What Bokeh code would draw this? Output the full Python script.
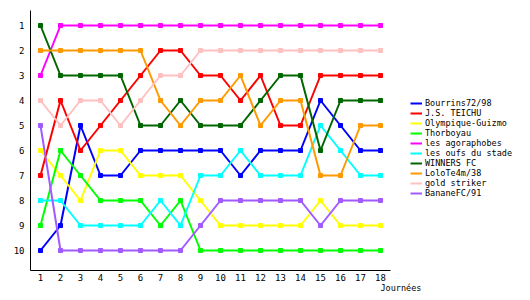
from bokeh.plotting import figure
from bokeh.models import Legend, LegendItem, Title, Range1d, FixedTicker, ColumnDataSource
from bokeh.embed import file_html
from bokeh.resources import INLINE

journees = list(range(1, 19))
teams = ["Bourrins72/98", "J.S. TEICHU", "Olympique-Guizmo", "Thorboyau",
         "les agoraphobes", "les oufs du stade", "WINNERS FC", "LoloTe4m/38",
         "gold striker", "BananeFC/91"]
colors = ["#0000ff", "#ff0000", "#ffff00", "#00ff00", "#ff00ff", "#00ffff",
          "#006600", "#ff9900", "#ffc0c0", "#a05aff"]

bourrins = [10, 9, 5, 7, 7, 6, 6, 6, 6, 6, 7, 6, 6, 6, 4, 5, 6, 6]
teichu = [7, 4, 6, 5, 4, 3, 2, 2, 3, 3, 4, 3, 5, 5, 3, 3, 3, 3]
guizmo = [6, 7, 8, 6, 6, 7, 7, 7, 8, 9, 9, 9, 9, 9, 8, 9, 9, 9]
thorboyau = [9, 6, 7, 8, 8, 8, 9, 8, 10, 10, 10, 10, 10, 10, 10, 10, 10, 10]
agoraphobes = [3, 1, 1, 1, 1, 1, 1, 1, 1, 1, 1, 1, 1, 1, 1, 1, 1, 1]
oufs = [8, 8, 9, 9, 9, 9, 8, 9, 7, 7, 6, 7, 7, 7, 5, 6, 7, 7]
winners = [1, 3, 3, 3, 3, 5, 5, 4, 5, 5, 5, 4, 3, 3, 6, 4, 4, 4]
lolo = [2, 2, 2, 2, 2, 2, 4, 5, 4, 4, 3, 5, 4, 4, 7, 7, 5, 5]
gold = [4, 5, 4, 4, 5, 4, 3, 3, 2, 2, 2, 2, 2, 2, 2, 2, 2, 2]
banane = [5, 10, 10, 10, 10, 10, 10, 10, 9, 8, 8, 8, 8, 8, 9, 8, 8, 8]
series = [bourrins, teichu, guizmo, thorboyau, agoraphobes, oufs, winners, lolo, gold, banane]

ranks = list(range(1, 11))
FONT = "DejaVu Sans Mono"

# frame spans the full width (legend sits inside it); axis line bounded to the data part
p = figure(width=530, height=300, output_backend="svg", toolbar_location=None,
           x_range=Range1d(0.5, 25.5), y_range=Range1d(10.8, 0.4),
           min_border_left=30, min_border_right=0, min_border_top=10,
           min_border_bottom=30)
p.outline_line_color = None
p.grid.visible = False
p.background_fill_color = "white"
p.border_fill_color = "white"

for ax in (p.xaxis[0], p.yaxis[0]):
    ax.major_tick_out = 0
    ax.major_tick_in = 0
    ax.minor_tick_out = 0
    ax.minor_tick_in = 0
    ax.axis_line_color = "black"
    ax.axis_line_width = 1
    ax.major_label_text_font = FONT
    ax.major_label_text_font_size = "9px"
    ax.major_label_text_color = "black"
p.xaxis.ticker = FixedTicker(ticks=journees)
p.xaxis.bounds = (0.5, 18.5)
p.yaxis.ticker = FixedTicker(ticks=ranks)
p.xaxis.major_label_standoff = 3
p.yaxis.major_label_standoff = 6

items = []
for name, col, vals in zip(teams, colors, series):
    src = ColumnDataSource(dict(x=journees, y=vals))
    ln = p.line("x", "y", source=src, line_color=col, line_width=2)
    p.scatter("x", "y", source=src, marker="square", size=4, fill_color=col, line_color=col)
    items.append(LegendItem(label=name, renderers=[ln]))

legend = Legend(items=items, location=(380, 72), orientation="vertical",
                label_text_font=FONT, label_text_font_size="8.5px",
                label_text_color="black", glyph_width=12, glyph_height=10,
                label_height=10, label_standoff=3, spacing=0, padding=0,
                margin=0, border_line_color=None, background_fill_alpha=0)
p.add_layout(legend, "center")

p.add_layout(Title(text="Journées", align="left", offset=350, text_font=FONT,
                   text_font_size="8.5px", text_font_style="normal",
                   text_color="black", standoff=-6), "below")

open("out.html", "w").write(file_html(p, INLINE))
